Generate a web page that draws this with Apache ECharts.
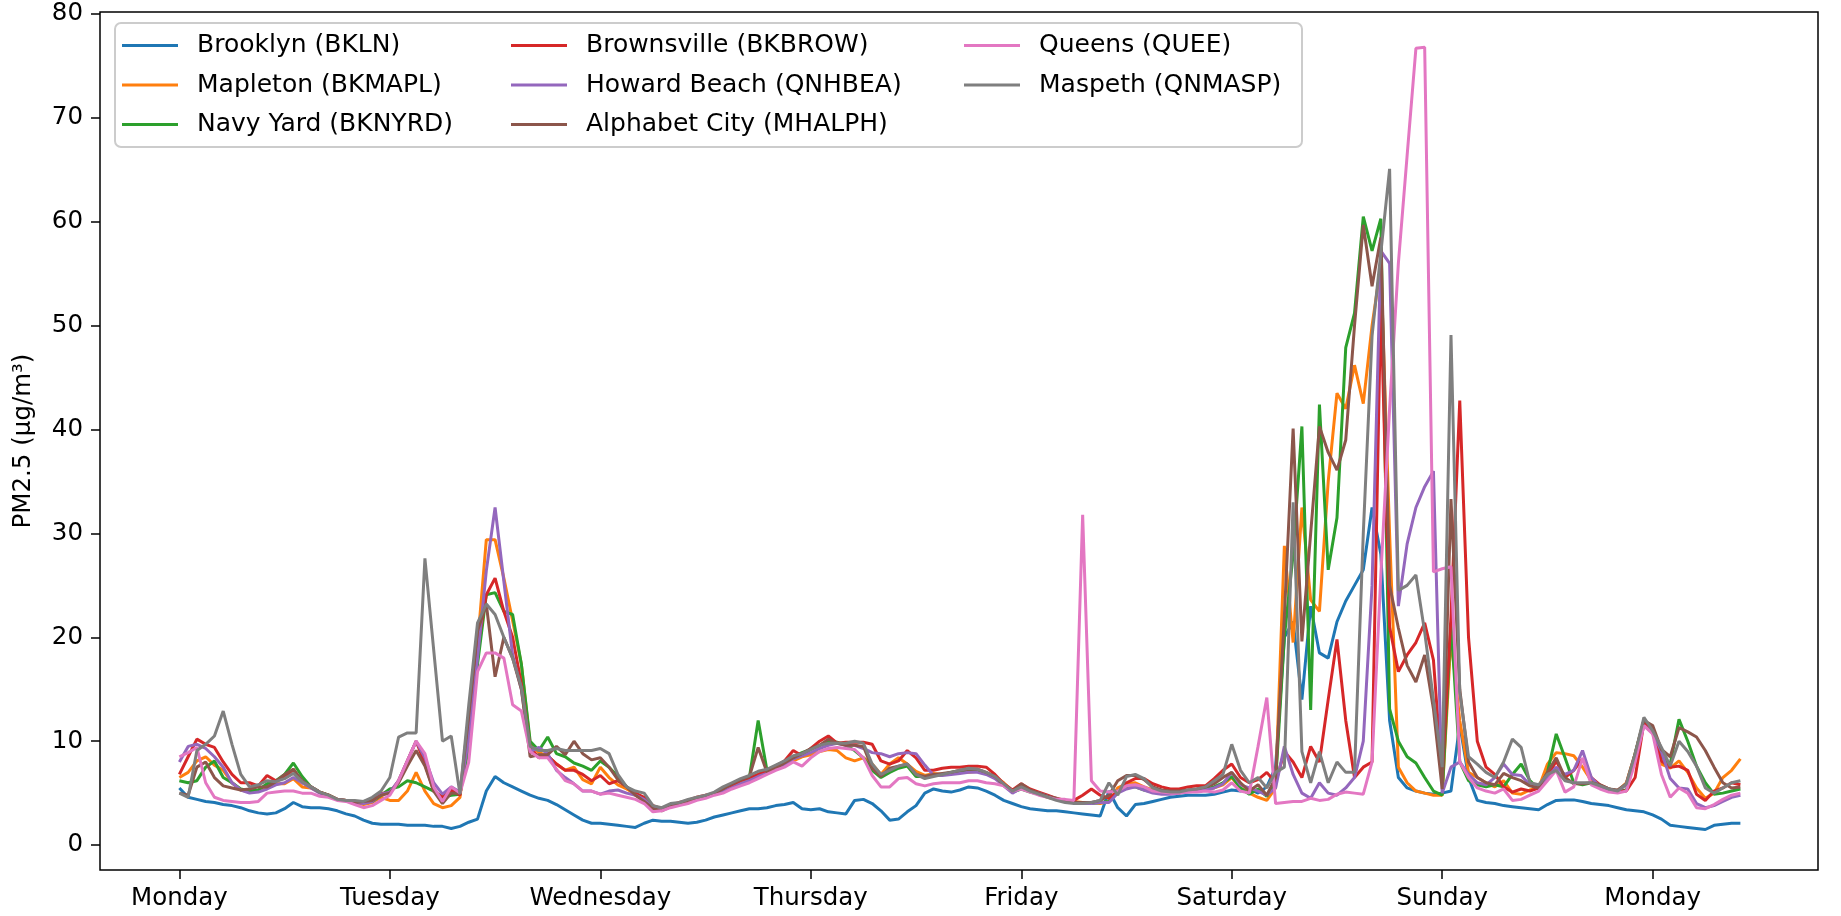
<!DOCTYPE html>
<html>
<head>
<meta charset="utf-8">
<title>PM2.5 by sensor</title>
<script src="https://cdn.jsdelivr.net/npm/echarts@6/dist/echarts.min.js"></script>
<style>
  html, body { margin: 0; padding: 0; background: #fff; }
  #chart { width: 1841px; height: 916px; }
</style>
</head>
<body>
<div id="chart"></div>
<script>
// Hourly PM2.5 readings (µg/m³), one value per hour starting Monday 00:00.
const bkln = [
  5.5,4.6,4.4,4.2,4.1,3.9,3.8,3.6,3.3,3.1,3.0,3.1,3.5,4.1,3.7,3.6,3.6,3.5,3.3,3.0,2.8,2.4,2.1,2.0,
  2.0,2.0,1.9,1.9,1.9,1.8,1.8,1.6,1.8,2.2,2.5,5.2,6.6,6.0,5.6,5.2,4.8,4.5,4.3,3.9,3.4,2.9,2.4,2.1,
  2.1,2.0,1.9,1.8,1.7,2.1,2.4,2.3,2.3,2.2,2.1,2.2,2.4,2.7,2.9,3.1,3.3,3.5,3.5,3.6,3.8,3.9,4.1,3.5,
  3.4,3.5,3.2,3.1,3.0,4.3,4.4,4.0,3.3,2.4,2.5,3.2,3.8,5.0,5.4,5.2,5.1,5.3,5.6,5.5,5.2,4.8,4.3,4.0,
  3.7,3.5,3.4,3.3,3.3,3.2,3.1,3.0,2.9,2.8,5.2,3.6,2.8,3.9,4.0,4.2,4.4,4.6,4.7,4.8,4.8,4.8,4.9,5.1,
  5.3,5.2,5.4,5.0,5.6,7.5,20.0,21.5,14.0,23.0,18.5,18.0,21.5,23.5,25.0,26.5,32.5,28.0,12.0,6.5,5.5,5.2,5.0,4.9,
  5.0,5.2,11.6,6.5,4.3,4.1,4.0,3.8,3.7,3.6,3.5,3.4,3.9,4.3,4.35,4.35,4.2,4.0,3.9,3.8,3.6,3.4,3.3,3.2,
  2.9,2.5,1.9,1.8,1.7,1.6,1.5,1.9,2.0,2.1,2.1
];
const bkmapl = [
  6.5,7.0,8.1,8.5,7.7,7.2,6.0,5.3,5.1,5.2,5.6,5.9,5.9,6.4,5.6,5.5,5.1,4.8,4.4,4.3,4.1,3.9,4.1,4.6,
  4.3,4.3,5.2,7.0,5.2,4.0,3.6,3.8,4.6,11.5,19.3,29.4,29.4,25.7,21.6,17.4,9.7,8.9,8.6,7.8,7.2,7.5,6.3,5.9,
  7.5,6.5,5.8,5.4,4.9,4.4,3.6,3.4,3.7,3.9,4.2,4.4,4.6,4.9,5.3,5.7,6.0,6.4,6.8,7.0,7.3,7.6,8.1,8.5,
  8.7,9.0,9.2,9.1,8.4,8.1,8.4,7.8,6.8,7.8,8.4,7.8,7.1,6.7,6.9,6.8,6.9,7.0,7.0,7.1,6.9,6.6,6.0,5.2,
  5.6,5.2,4.9,4.6,4.4,4.2,4.2,4.1,4.1,4.0,4.2,5.5,5.9,6.0,5.6,5.3,5.2,5.1,5.1,5.2,5.3,5.4,5.5,5.8,
  6.5,5.5,5.0,4.6,4.3,5.5,28.8,19.5,32.5,23.6,22.5,35.0,43.5,42.0,46.2,42.5,50.0,55.8,30.0,7.5,6.0,5.2,5.0,4.8,
  4.8,20.0,12.0,7.0,6.5,6.0,5.6,6.2,5.0,4.9,5.3,5.5,7.8,8.9,8.8,8.6,7.5,6.2,5.6,5.2,5.2,6.0,8.8,12.0,
  11.0,7.8,7.4,8.1,7.0,5.5,4.5,5.0,6.5,7.2,8.3
];
const bknyrd = [
  6.2,6.0,6.2,7.5,8.1,6.5,6.0,5.4,5.2,5.3,5.9,6.2,6.8,7.9,6.6,5.6,5.1,4.8,4.4,4.3,4.2,4.1,4.2,4.8,
  5.4,5.6,6.2,6.0,5.6,5.2,4.6,4.8,4.9,9.5,17.4,24.1,24.3,22.5,22.2,17.4,10.0,9.1,10.4,8.8,8.5,7.9,7.6,7.2,
  8.1,7.5,6.6,5.6,5.0,4.4,3.6,3.5,3.8,4.0,4.3,4.5,4.7,5.0,5.4,5.8,6.2,6.5,12.0,7.2,7.6,8.0,8.5,8.9,
  9.2,9.6,10.0,9.9,9.6,9.1,8.4,7.2,6.5,7.0,7.4,7.6,6.6,6.6,6.7,6.8,7.0,7.1,7.2,7.2,6.9,6.6,5.8,5.1,
  5.4,5.1,4.9,4.7,4.4,4.2,4.1,4.0,4.0,4.1,4.2,5.2,5.6,5.6,5.3,5.1,5.0,5.0,5.0,5.2,5.3,5.4,5.6,6.0,
  6.6,5.5,4.9,5.4,4.7,6.0,20.0,28.0,40.3,13.0,42.4,26.5,31.5,47.9,51.2,60.5,57.2,60.3,13.1,10.0,8.5,7.9,6.5,5.2,
  4.8,21.4,8.0,6.2,5.8,5.6,5.8,5.6,6.8,7.8,6.2,5.4,7.0,10.7,8.4,6.0,5.8,6.0,5.7,5.4,5.2,5.3,8.8,12.0,
  11.2,8.5,7.8,12.1,10.0,7.6,6.0,4.9,5.0,5.2,5.4
];
const bkbrow = [
  6.8,8.5,10.2,9.7,9.4,8.0,6.8,6.0,6.0,5.7,6.7,6.2,6.5,7.3,6.0,5.6,5.1,4.8,4.4,4.3,4.1,4.1,4.3,5.0,
  5.0,6.2,8.1,10.0,7.8,5.2,4.6,5.3,4.8,11.0,19.0,24.1,25.7,22.5,20.0,15.5,9.4,8.4,8.6,7.8,7.2,7.2,6.8,6.2,
  6.7,5.9,6.2,5.6,5.0,4.6,3.8,3.5,3.8,4.1,4.3,4.6,4.8,5.0,5.4,5.8,6.2,6.5,6.8,7.2,7.6,8.1,9.1,8.6,
  9.3,10.0,10.5,9.8,9.9,9.9,9.9,9.7,8.1,7.8,8.1,9.1,8.4,7.2,7.2,7.4,7.5,7.5,7.6,7.6,7.5,6.8,5.9,5.3,
  5.9,5.4,5.1,4.8,4.5,4.3,4.3,4.8,5.4,4.8,4.5,5.1,6.0,6.4,6.4,5.9,5.6,5.4,5.4,5.6,5.7,5.7,6.4,7.2,
  7.8,6.5,6.0,6.3,7.0,6.0,9.0,8.0,6.5,9.5,8.0,14.0,19.8,12.0,6.5,7.5,8.0,52.5,21.0,16.7,18.3,19.5,21.4,17.8,
  6.4,22.0,42.8,20.0,10.0,7.5,6.8,5.6,5.1,5.4,5.2,5.5,6.6,8.1,6.5,7.2,8.3,6.5,5.8,5.4,5.2,5.2,6.5,11.8,
  10.8,8.1,7.5,7.6,7.2,4.9,4.3,5.2,5.5,6.0,5.8
];
const qnhbea = [
  8.0,9.5,9.7,9.3,8.5,7.5,6.0,5.3,5.0,5.1,5.4,5.8,6.0,6.5,6.0,5.5,5.0,4.7,4.4,4.3,4.1,4.0,4.2,4.9,
  5.1,6.2,8.1,10.0,8.4,6.0,4.9,5.6,5.1,10.3,18.0,26.4,32.5,25.4,18.3,15.0,9.0,9.4,8.8,7.2,6.5,5.9,5.2,5.2,
  4.9,5.2,5.3,5.0,4.8,4.4,3.6,3.4,3.8,4.0,4.2,4.4,4.7,5.0,5.2,5.5,5.9,6.2,6.6,6.9,7.3,7.7,8.3,8.6,
  8.9,9.3,9.6,9.8,9.6,9.6,9.3,8.9,8.8,8.5,8.8,8.9,8.8,7.7,6.7,6.7,6.8,6.9,7.0,7.0,6.8,6.4,5.7,5.0,
  5.5,5.2,5.0,4.7,4.4,4.2,4.1,4.0,4.0,4.1,4.1,5.0,5.4,5.6,5.3,5.0,4.9,4.9,5.0,5.1,5.2,5.3,5.5,5.9,
  7.0,5.8,5.5,5.2,4.8,5.5,9.5,6.8,5.0,4.5,6.0,5.0,4.8,5.5,6.5,10.0,25.0,57.2,56.0,23.0,29.0,32.5,34.5,36.0,
  5.0,7.5,8.0,6.8,6.0,5.8,6.5,7.8,6.8,6.7,5.8,5.5,6.5,7.5,6.8,7.2,9.1,6.5,5.6,5.3,5.2,5.8,8.5,11.5,
  10.8,9.0,6.4,5.5,5.4,4.0,3.6,3.8,4.2,4.6,4.8
];
const mhalph = [
  5.0,4.8,7.5,8.0,6.5,5.7,5.5,5.3,5.4,5.6,5.6,6.1,6.8,7.3,6.2,5.6,5.1,4.8,4.4,4.3,4.1,4.2,4.3,4.8,
  5.0,6.0,7.6,9.1,7.6,5.2,4.0,5.0,5.0,12.5,20.6,23.2,16.2,20.0,18.0,15.0,8.5,8.7,8.7,9.5,8.7,10.0,8.8,8.2,
  8.4,7.5,6.3,5.6,4.8,4.2,3.5,3.3,3.7,3.9,4.2,4.4,4.6,5.0,5.4,5.9,6.3,6.6,9.4,7.0,7.4,7.9,8.4,8.8,
  9.3,9.6,10.2,9.8,9.6,9.6,9.5,7.4,6.6,7.4,7.6,7.8,6.8,6.6,6.8,6.9,7.0,7.2,7.3,7.3,7.0,6.6,5.8,5.2,
  5.9,5.3,5.0,4.7,4.5,4.2,4.1,4.1,4.1,4.3,4.8,6.2,6.7,6.7,6.3,5.6,5.3,5.2,5.2,5.3,5.4,5.6,5.9,6.5,
  7.0,6.0,5.2,5.8,4.8,6.5,22.0,40.1,19.6,30.0,40.3,37.8,36.1,39.0,50.0,59.7,53.8,58.5,25.0,20.9,17.3,15.7,18.3,13.1,
  5.4,33.3,15.0,8.0,6.5,6.0,5.8,6.9,6.5,6.2,5.7,5.5,7.0,8.4,6.5,5.9,5.9,6.0,5.8,5.4,5.3,5.9,8.8,12.0,
  11.5,9.2,8.5,11.3,10.9,10.4,9.1,7.5,6.0,5.5,5.6
];
const quee = [
  8.5,8.9,9.4,6.0,4.6,4.3,4.2,4.1,4.1,4.2,5.0,5.1,5.2,5.2,5.0,5.0,4.7,4.6,4.3,4.2,3.9,3.6,3.8,4.3,
  4.8,6.2,8.1,10.0,8.8,5.6,4.2,5.6,5.0,8.0,16.7,18.5,18.5,18.0,13.5,12.9,9.0,8.4,8.4,7.3,6.2,5.9,5.2,5.2,
  4.9,5.0,4.8,4.6,4.4,4.0,3.2,3.3,3.6,3.8,4.0,4.3,4.5,4.8,5.0,5.4,5.7,6.0,6.4,6.8,7.2,7.5,8.0,7.6,
  8.4,9.0,9.3,9.4,9.3,9.2,8.4,6.7,5.6,5.6,6.4,6.5,5.9,5.7,5.9,6.0,6.0,6.0,6.2,6.2,6.0,5.9,5.7,5.2,
  5.4,5.1,4.8,4.6,4.4,4.4,4.3,31.8,6.2,5.2,5.1,5.2,5.7,5.8,5.6,5.2,5.1,5.0,5.0,5.1,5.1,5.2,5.1,5.3,
  6.0,5.2,5.0,9.5,14.2,4.0,4.1,4.2,4.2,4.5,4.3,4.4,4.9,5.1,5.0,4.9,8.0,26.0,42.0,56.0,66.4,76.7,76.8,26.3,
  26.6,26.8,8.0,6.5,5.5,5.2,5.0,5.4,4.3,4.4,4.8,5.2,6.2,7.2,5.1,5.6,8.4,5.8,5.4,5.1,5.0,5.2,8.0,11.5,
  10.7,6.8,4.6,5.5,5.0,3.6,3.5,3.9,4.4,4.8,5.0
];
const qnmasp = [
  5.0,4.6,9.1,9.7,10.5,12.9,9.7,6.8,5.6,5.8,6.2,6.1,6.4,6.9,6.1,5.6,5.1,4.8,4.4,4.3,4.3,4.2,4.6,5.2,
  6.5,10.4,10.8,10.8,27.6,18.8,10.0,10.5,4.9,13.5,21.4,23.2,22.2,20.0,18.0,15.2,9.5,9.1,9.1,9.3,9.1,9.1,9.1,9.1,
  9.3,8.8,6.8,5.6,5.2,5.0,3.8,3.6,4.0,4.1,4.4,4.6,4.8,5.1,5.6,6.0,6.4,6.7,7.1,7.3,7.7,8.1,8.6,8.8,
  9.2,9.6,9.8,9.8,9.8,10.0,9.8,7.8,6.8,7.2,7.6,7.8,6.8,6.4,6.6,6.8,7.0,7.2,7.4,7.3,7.0,6.6,5.9,5.2,
  5.6,5.2,4.9,4.6,4.3,4.1,4.0,4.0,4.1,4.3,6.0,4.8,6.6,6.8,6.4,5.5,5.2,5.1,5.1,5.3,5.4,5.6,6.2,6.8,
  9.7,7.2,6.0,6.5,5.5,7.0,7.5,33.0,9.0,6.0,9.0,6.0,8.0,7.0,7.0,30.0,49.0,57.0,65.1,24.5,25.0,26.0,20.5,14.0,
  7.5,49.1,14.7,8.5,7.8,7.0,6.5,8.0,10.2,9.4,6.0,5.8,6.8,7.2,6.2,6.0,6.0,6.0,5.7,5.4,5.2,5.9,8.8,12.3,
  11.0,9.4,7.6,10.0,9.0,7.6,5.5,5.0,5.5,6.0,6.2
];

// Sensor labels and their line colours, in drawing order.
const sensorNames = [
  'Brooklyn (BKLN)', 'Mapleton (BKMAPL)', 'Navy Yard (BKNYRD)', 'Brownsville (BKBROW)',
  'Howard Beach (QNHBEA)', 'Alphabet City (MHALPH)', 'Queens (QUEE)', 'Maspeth (QNMASP)'
];
const sensorValues = [bkln, bkmapl, bknyrd, bkbrow, qnhbea, mhalph, quee, qnmasp];
const sensorColors = ['#1f77b4', '#ff7f0e', '#2ca02c', '#d62728', '#9467bd', '#8c564b', '#e377c2', '#7f7f7f'];

// Axis ticks: midnight of each day (hours since the first Monday) and PM2.5 levels.
const dayTickHours = [0, 24, 48, 72, 96, 120, 144, 168];
const dayTickLabels = ['Monday', 'Tuesday', 'Wednesday', 'Thursday', 'Friday', 'Saturday', 'Sunday', 'Monday'];
const pmTicks = [0, 10, 20, 30, 40, 50, 60, 70, 80];

const FONT = 'DejaVu Sans';

const chart = echarts.init(document.getElementById('chart'), null, { renderer: 'canvas' });

const series = sensorValues.map((vals, k) => ({
  name: sensorNames[k],
  type: 'line',
  data: vals.map((v, h) => [h, v]),
  showSymbol: false,
  symbol: 'none',
  lineStyle: { color: sensorColors[k], width: 3 },
  itemStyle: { color: sensorColors[k] },
  emphasis: { disabled: true },
  z: 2,
  animation: false
}));

// Legend laid out in three columns, filled top to bottom.
const legendColumns = [[0, 1, 2], [3, 4, 5], [6, 7]];
const legendLeft = [122, 511, 964];
const legends = legendColumns.map((idx, c) => ({
  data: idx.map(i => ({ name: sensorNames[i], icon: 'rect' })),
  orient: 'vertical',
  left: legendLeft[c],
  top: 33,
  padding: 0,
  z: 10,
  itemWidth: 56,
  itemHeight: 3,
  itemGap: 14.5,
  selectedMode: false,
  textStyle: { fontFamily: FONT, fontSize: 25, color: '#000', lineHeight: 25, padding: [0, 0, 0, 14] }
}));

chart.setOption({
  animation: false,
  backgroundColor: '#fff',
  grid: {
    left: 100, right: 23, top: 12, bottom: 46,
    show: true, borderColor: '#000', borderWidth: 1.5, backgroundColor: 'rgba(0,0,0,0)'
  },
  legend: legends,
  graphic: [{
    type: 'rect',
    z: 5,
    shape: { x: 115, y: 23, width: 1187, height: 124, r: 6 },
    style: { fill: 'rgba(255,255,255,0.8)', stroke: '#cccccc', lineWidth: 2 },
    silent: true
  }],
  xAxis: {
    type: 'value',
    min: -9.05,
    max: 186.85,
    axisLine: { show: false, onZero: false },
    splitLine: { show: false },
    axisTick: { show: true, length: 9, lineStyle: { color: '#000', width: 1.5 }, customValues: dayTickHours },
    axisLabel: {
      customValues: dayTickHours,
      formatter: v => dayTickLabels[dayTickHours.indexOf(v)],
      fontFamily: FONT, fontSize: 24.5, color: '#000', margin: 16
    }
  },
  yAxis: {
    type: 'value',
    min: -2.4,
    max: 80.2,
    name: 'PM2.5 (µg/m³)',
    nameLocation: 'middle',
    nameRotate: 90,
    nameGap: 64,
    nameTextStyle: { fontFamily: FONT, fontSize: 24.5, color: '#000' },
    axisLine: { show: false, onZero: false },
    splitLine: { show: false },
    axisTick: { show: true, length: 9, lineStyle: { color: '#000', width: 1.5 }, customValues: pmTicks },
    axisLabel: {
      customValues: pmTicks,
      fontFamily: FONT, fontSize: 24.5, color: '#000', margin: 17
    }
  },
  series: series
});
</script>
